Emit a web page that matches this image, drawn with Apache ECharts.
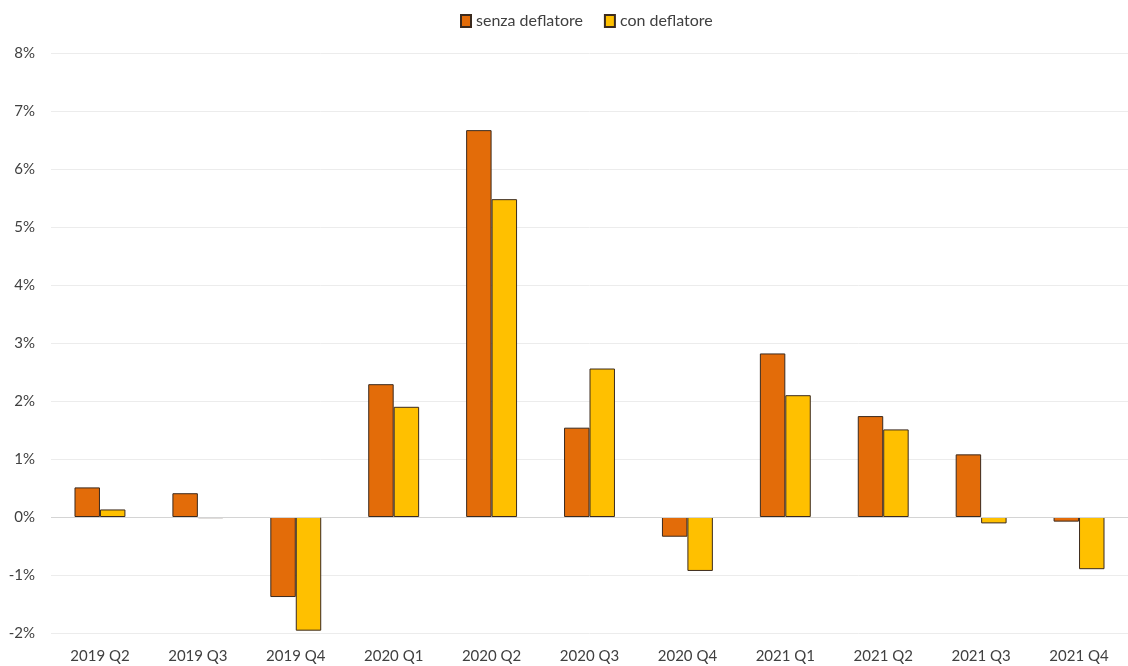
<!DOCTYPE html>
<html>
<head>
<meta charset="utf-8">
<script src="https://cdn.jsdelivr.net/npm/echarts@6/dist/echarts.min.js"></script>
<style>
html,body{margin:0;padding:0;background:#fff;}
#chart{width:1128px;height:666px;}
</style>
</head>
<body>
<div id="chart"></div>
<script>
const categories = ['2019 Q2','2019 Q3','2019 Q4','2020 Q1','2020 Q2','2020 Q3','2020 Q4','2021 Q1','2021 Q2','2021 Q3','2021 Q4'];
const senzaDeflatore = [0.51, 0.41, -1.38, 2.29, 6.67, 1.54, -0.34, 2.82, 1.74, 1.08, -0.08];
const conDeflatore = [0.13, -0.02, -1.96, 1.90, 5.48, 2.56, -0.93, 2.10, 1.51, -0.11, -0.90];
const seriesNames = ['senza deflatore', 'con deflatore'];

const chart = echarts.init(document.getElementById('chart'));
const font = 'Lato, "Open Sans", sans-serif';
chart.setOption({
  animation: false,
  backgroundColor: '#ffffff',
  textStyle: { fontFamily: font },
  legend: {
    top: 8,
    left: 455,
    icon: 'rect',
    itemWidth: 10,
    itemHeight: 12,
    itemGap: 21,
    textStyle: { fontSize: 16, color: '#404040', fontFamily: font },
    data: seriesNames
  },
  grid: { left: 51, right: -11.5, top: 53, bottom: 33, containLabel: false },
  xAxis: {
    type: 'category',
    data: categories,
    axisLine: { show: false },
    axisTick: { show: false },
    axisLabel: { color: '#404040', fontSize: 15, margin: 16, fontFamily: font }
  },
  yAxis: {
    type: 'value',
    min: -2,
    max: 8,
    interval: 1,
    axisLine: { show: false },
    axisTick: { show: false },
    axisLabel: { color: '#404040', fontSize: 15, margin: 16, formatter: v => v + '%', fontFamily: font },
    splitLine: { lineStyle: { color: '#ececec', width: 1 } }
  },
  series: [
    {
      name: seriesNames[0],
      type: 'bar',
      data: senzaDeflatore,
      barGap: '0%',
      barCategoryGap: '48%',
      itemStyle: { color: '#E36C09', borderColor: '#3b2a1e', borderWidth: 1 },
      markLine: {
        silent: true, symbol: 'none', label: { show: false },
        lineStyle: { color: '#d4d4d4', type: 'solid', width: 1 },
        data: [{ yAxis: 0 }]
      }
    },
    {
      name: seriesNames[1],
      type: 'bar',
      data: conDeflatore,
      itemStyle: { color: '#FFC000', borderColor: '#3b2a1e', borderWidth: 1 }
    }
  ]
});
</script>
</body>
</html>
